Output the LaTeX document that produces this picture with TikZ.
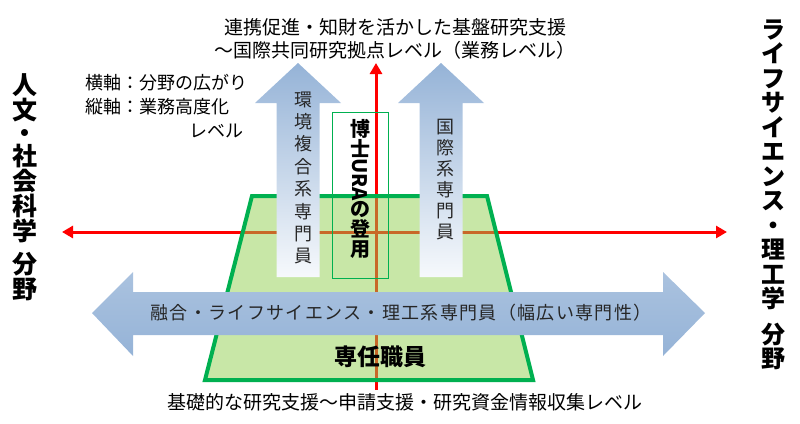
\documentclass[tikz,border=0pt]{standalone}
\usepackage{fontspec}
\setmainfont{Noto Sans CJK JP}
\usetikzlibrary{arrows.meta}
\definecolor{axred}{HTML}{FF0000}
\definecolor{trapline}{HTML}{00B050}
\definecolor{trapfill}{HTML}{92D050}
\definecolor{arrblue}{HTML}{95B3D7}

\begin{document}
\begin{tikzpicture}[x=1pt, y=-1pt,
  axis/.style={draw=axred, line width=3pt},
  tip/.style={-{Triangle[length=11pt, width=12pt]}},
  trap/.style={draw=trapline, line width=4pt, fill=trapfill, fill opacity=0.5},
  urabox/.style={draw=trapline, line width=0.8pt},
  uparr/.style={top color=arrblue, bottom color=arrblue!8},
  widearr/.style={top color=arrblue!80, bottom color=arrblue},
  vtext/.style={align=center, inner sep=0pt, text=black!85,
             font=\fontsize{18}{22.4}\selectfont},
  sidelbl/.style={align=center, inner sep=0pt, font=\bfseries\fontsize{24}{24.5}\selectfont},
  lvl/.style={align=center, inner sep=0pt, font=\fontsize{19}{23}\selectfont},
]
\useasboundingbox (0,0) rectangle (800,423);

% axes
\coordinate (xl) at (62,232);
\coordinate (xr) at (727,232);
\coordinate (yb) at (376,390);
\coordinate (yt) at (376,63);
\draw[axis, tip] (yb) -- (yt);
\draw[axis, tip] (376,232) -- (xl);
\draw[axis, tip] (376,232) -- (xr);

% full-time staff base
\draw[trap] (252,196) -- (487,196) -- (533,380) -- (205,380) -- cycle;
\draw[urabox] (332,112) rectangle (388,278);

% upward arrows
\foreach \cx in {298,441}
  \shade[uparr] ({\cx-21.5},277) -- ({\cx-21.5},103) -- ({\cx-43},103)
    -- (\cx,63) -- ({\cx+43},103) -- ({\cx+21.5},103) -- ({\cx+21.5},277) -- cycle;

% wide double arrow
\shade[widearr] (92,313) -- (133,272) -- (133,292) -- (663,292) -- (663,272)
  -- (705,313) -- (663,356) -- (663,335) -- (133,335) -- (133,356) -- cycle;

\node[lvl] (top) at (395,38.5)
  {連携促進・知財を活かした基盤研究支援\\〜国際共同研究拠点レベル（業務レベル）};
\node[lvl] (bottom) at (405,402) {基礎的な研究支援〜申請支援・研究資金情報収集レベル};

\node[align=left, inner sep=0pt, anchor=north west, font=\fontsize{18}{24}\selectfont]
  (legend) at (85,74) {横軸：分野の広がり\\縦軸：業務高度化\\\hspace*{5.8em}レベル};

\node[vtext] (env) at (303,178) {環\\境\\複\\合\\系\\専\\門\\員};
\node[vtext, font=\fontsize{18}{21}\selectfont] (intl) at (445,180) {国\\際\\系\\専\\門\\員};
\node[vtext, text=black, font=\bfseries\fontsize{20}{20}\selectfont] (ura) at (360,189)
  {博\\士\\\rotatebox[origin=c]{-90}{URA}\\の\\登\\用};

\node[inner sep=0pt, text=black!85,
      font=\fontsize{18}{18}\selectfont\addfontfeature{LetterSpace=7.5}] (wide) at (401,313)
  {融合・ライフサイエンス・理工系専門員（幅広い専門性）};
\node[inner sep=0pt, font=\bfseries\fontsize{23}{23}\selectfont] (staff) at (380,357) {専任職員};

\node[sidelbl, font=\bfseries\fontsize{25}{25}\selectfont] (hum) at (25,187)
  {人\\文\\[-2pt]・\\[-2pt]社\\会\\科\\学\\[8pt]分\\野};
\node[sidelbl] (life) at (773,195)
  {ラ\\イ\\フ\\サ\\イ\\エ\\ン\\ス\\・\\理\\工\\学\\[11pt]分\\野};
\end{tikzpicture}
\end{document}
